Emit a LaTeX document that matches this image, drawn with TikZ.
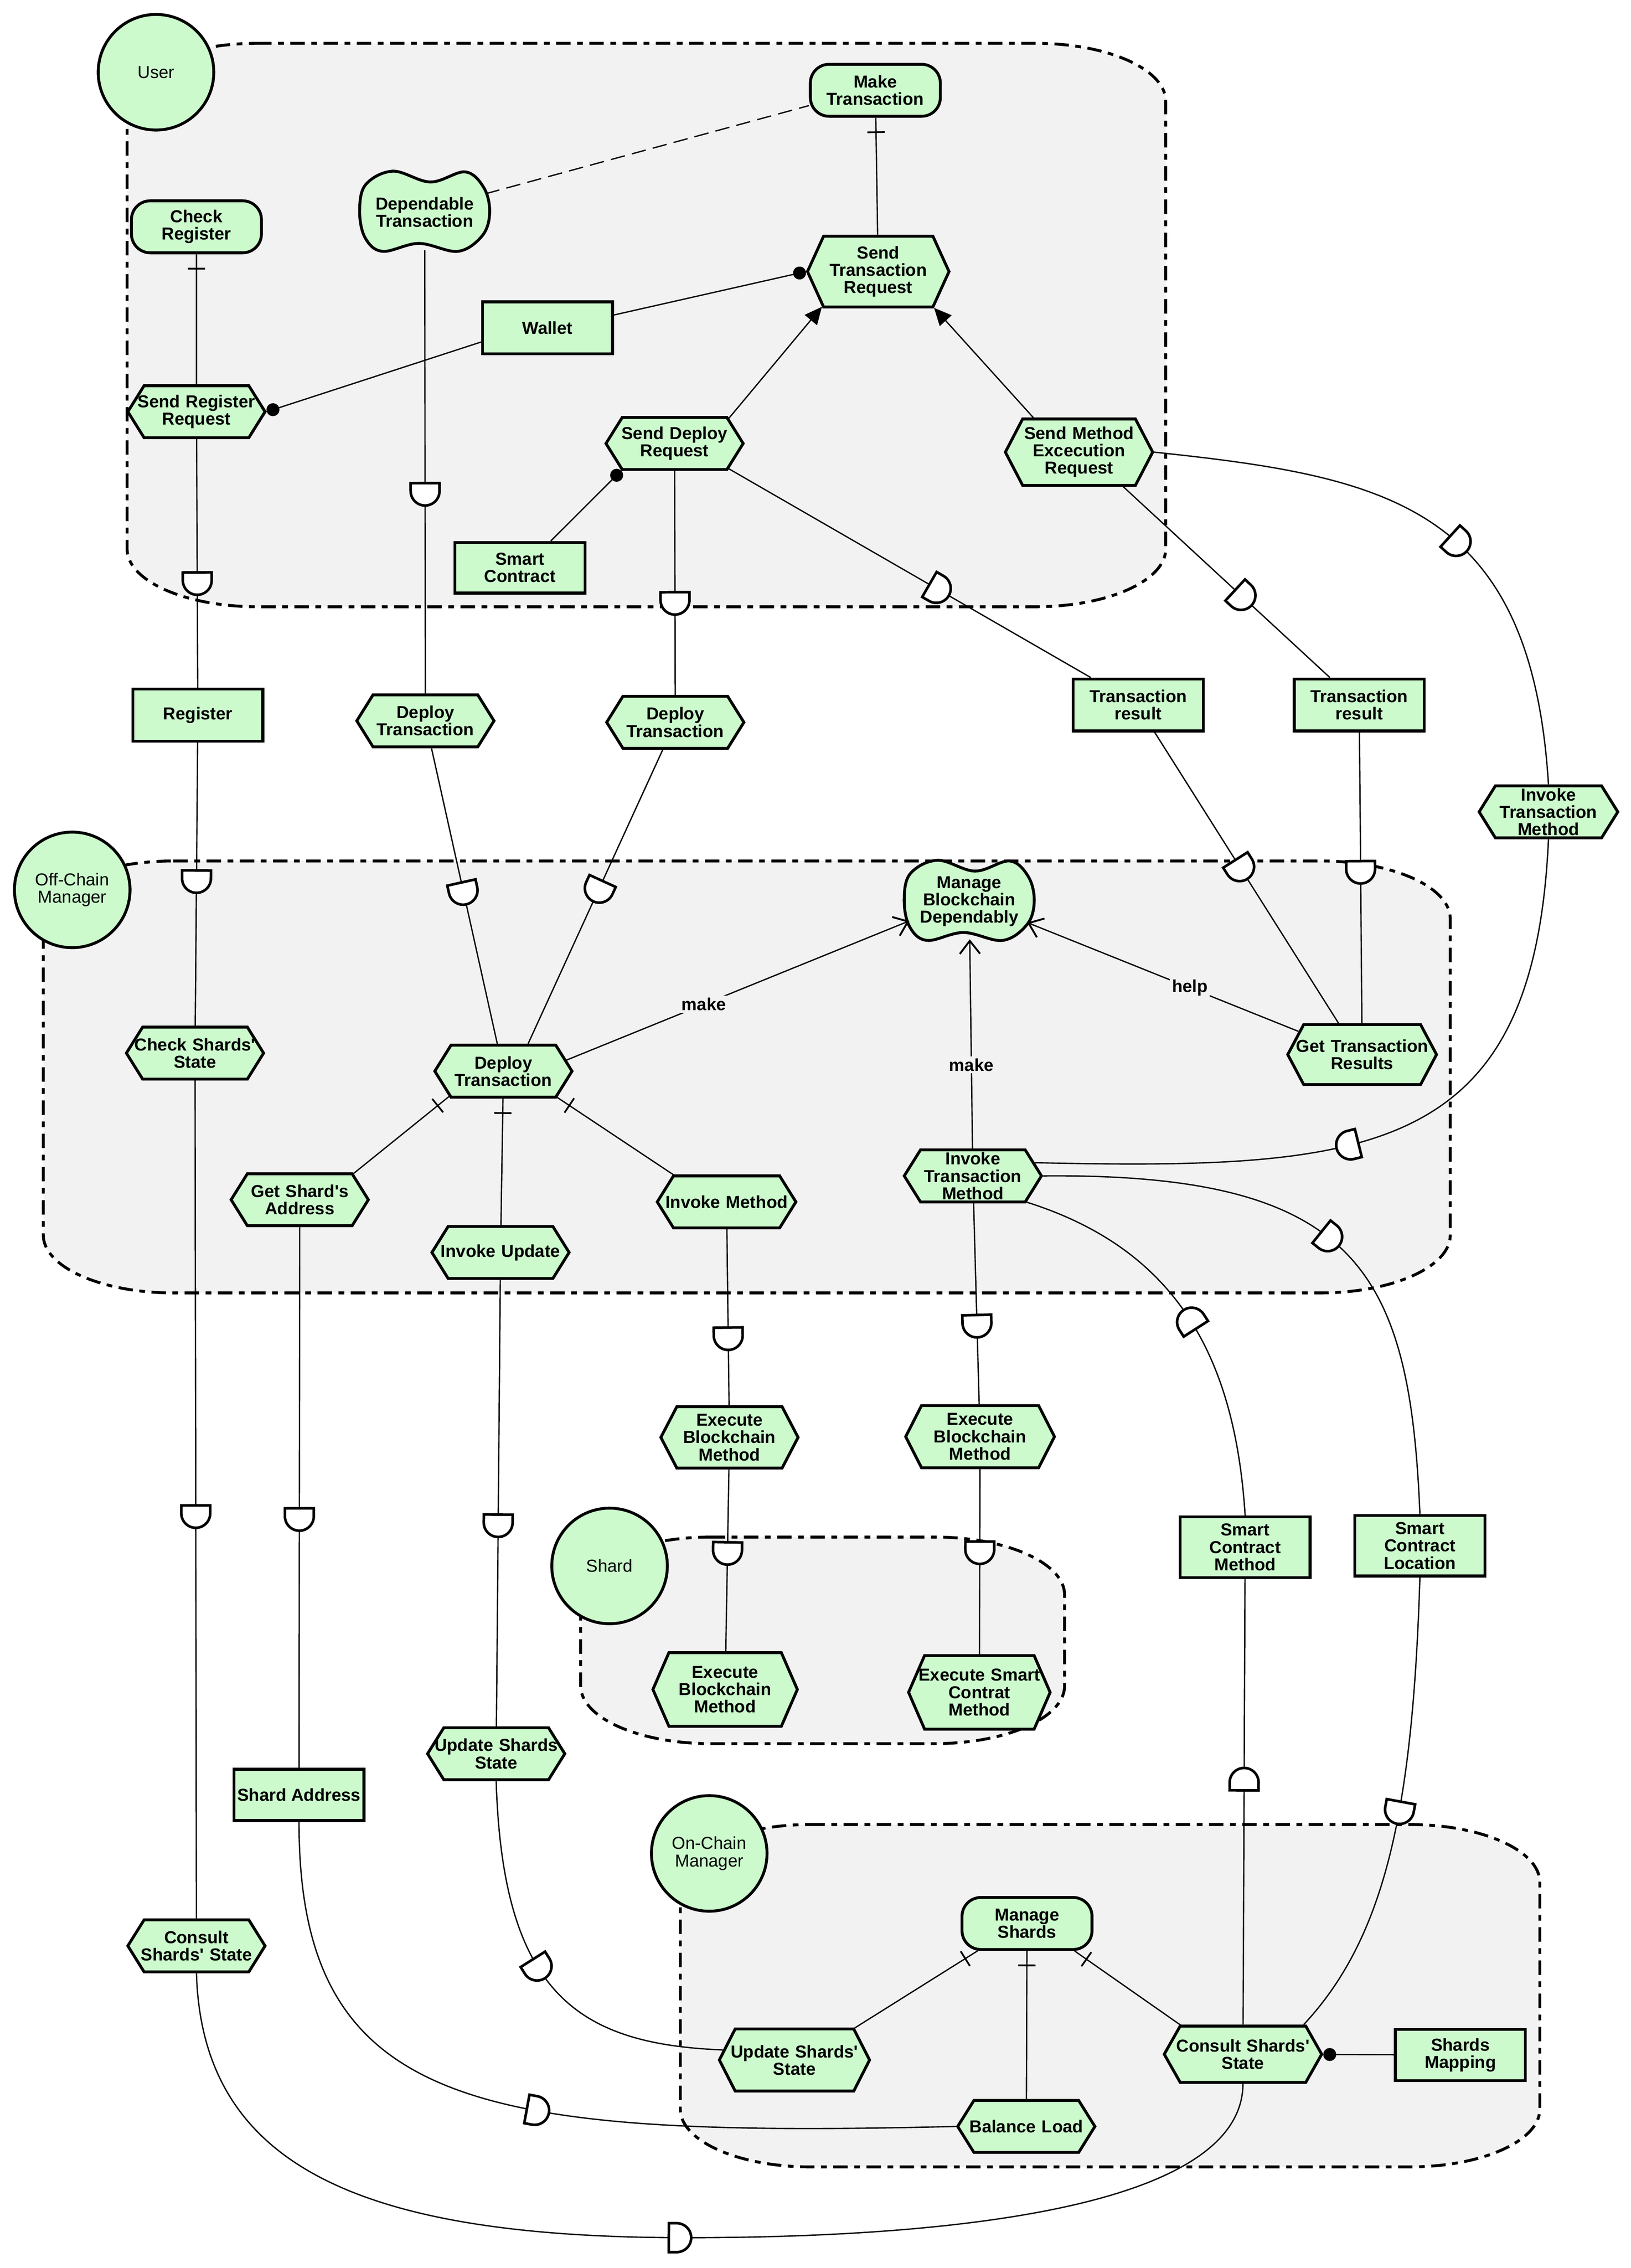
\documentclass[tikz,border=0pt]{standalone}
\usepackage{fontspec}
\setmainfont{Liberation Sans}
\usetikzlibrary{shapes.symbols,shapes.geometric,arrows.meta,decorations.markings}

\definecolor{elemfill}{HTML}{CCFACD}
\definecolor{bndfill}{HTML}{F2F2F2}

\tikzset{
  elemtext/.style={font=\fontsize{12}{12}\selectfont\bfseries, align=center},
  actor/.style={circle, draw, line width=2pt, fill=elemfill, minimum size=80pt, inner sep=0pt, align=center, font=\fontsize{12}{12}\selectfont},
  bnd/.style={draw, fill=bndfill, line width=2pt, dash pattern=on 10pt off 4.5pt on 4pt off 4.5pt},
  task/.style={elemtext, signal, signal to=east and west, signal pointer angle=116, draw, line width=2pt, fill=elemfill, text width=94pt, inner xsep=-11pt, inner ysep=0pt, minimum width=95pt, minimum height=36pt},
  resource/.style={elemtext, rectangle, draw, line width=2pt, fill=elemfill, inner sep=0pt, minimum width=90pt, minimum height=36pt},
  goal/.style={resource, rounded corners=13pt},
  softgoal/.style={elemtext, ellipse, inner sep=0pt, minimum width=90pt, minimum height=52pt},
  conn/.style={line width=0.9pt},
  dep/.style={conn, postaction={decorate, decoration={markings, mark=at position #1 with {\filldraw[fill=white, line width=1.8pt] (-7.5pt,-10pt) -- (-7.5pt,10pt) -- (-2pt,10pt) arc[start angle=90, end angle=-90, radius=10pt] -- cycle;}}}},
  dep/.default=0.5,
  andref/.style={conn, postaction={decorate, decoration={markings, mark=at position 10pt with {\draw[line width=1.2pt] (0pt,-6pt) -- (0pt,6pt);}}}},
  orref/.style={conn, -{Triangle[length=12pt, width=11pt]}},
  needed/.style={conn, -{Circle[length=9pt]}},
  contrib/.style={conn, -{Straight Barb[length=9pt, width=14pt, line width=1.3pt]}},
  lbl/.style={font=\fontsize{12}{12}\selectfont\bfseries, fill=bndfill, inner sep=1.5pt},
}

% softgoal: name, x, y, text
\newcommand{\softgoal}[4]{%
  \filldraw[line width=2pt, fill=elemfill, shift={(#2,#3)}] plot[smooth cycle, tension=0.6] coordinates {(-45,0) (-41,-19) (-22,-28.5) (4,-21) (28,-28) (41,-17) (45,0) (40,16) (23,27) (-4,21.5) (-29,27) (-41,18)};
  \node[softgoal] (#1) at (#2,#3) {#4};
}

% actor boundary: x1, y1, x2, y2
\newcommand{\boundary}[4]{%
  \filldraw[bnd] (#1+90,#2) -- (#3-90,#2)
    arc[start angle=90, end angle=0, x radius=90pt, y radius=40pt] -- (#3,#4-40)
    arc[start angle=0, end angle=-90, x radius=90pt, y radius=40pt] -- (#1+90,#4)
    arc[start angle=270, end angle=180, x radius=90pt, y radius=40pt] -- (#1,#2+40)
    arc[start angle=180, end angle=90, x radius=90pt, y radius=40pt] -- cycle;
}

\begin{document}
\begin{tikzpicture}[x=1pt, y=-1pt]
\useasboundingbox (0,0) rectangle (1129,1570);

% Boundaries and actors
\boundary{88}{30}{807}{420}
\boundary{30}{596}{1004}{895}
\boundary{402}{1064}{737}{1207}
\boundary{471}{1263}{1066}{1500}
\node[actor] (user) at (108,50) {User};
\node[actor] (offchain) at (50,616) {Off-Chain\\Manager};
\node[actor] (shard) at (422,1084) {Shard};
\node[actor] (onchain) at (491,1283) {On-Chain\\Manager};

% User
\node[goal] (mt) at (606,62.5) {Make\\Transaction};
\softgoal{dept}{294}{147}{Dependable\\Transaction}
\node[goal] (cr) at (136,157) {Check\\Register};
\node[task, minimum width=98pt, minimum height=49pt, signal pointer angle=131] (str) at (608,188) {Send\\Transaction\\Request};
\node[resource] (wallet) at (379,227) {Wallet};
\node[task] (srr) at (136,285) {Send Register\\Request};
\node[task] (sdr) at (467,307) {Send Deploy\\Request};
\node[task, minimum width=102pt, minimum height=46pt, signal pointer angle=125] (smer) at (747,313) {Send Method\\Excecution\\Request};
\node[resource, minimum height=35pt] (sc) at (360,393) {Smart\\Contract};

% between User and Off-Chain Manager
\node[resource] (reg) at (137,495) {Register};
\node[task] (dt1) at (294.5,499) {Deploy\\Transaction};
\node[task] (dt2) at (467.5,500) {Deploy\\Transaction};
\node[resource] (tr1) at (788,488) {Transaction\\result};
\node[resource] (tr2) at (941,488) {Transaction\\result};
\node[task, minimum width=96pt] (itm1) at (1072,562) {Invoke\\Transaction\\Method};

% Off-Chain Manager
\softgoal{mbd}{671}{624}{Manage\\Blockchain\\Dependably}
\node[task] (cso) at (135,729) {Check Shards\textquotesingle\\State};
\node[task] (dto) at (348.5,741.5) {Deploy\\Transaction};
\node[task, minimum width=103pt, minimum height=41.5pt, signal pointer angle=124] (gtr) at (943,730) {Get Transaction\\Results};
\node[task] (gsa) at (207.5,830.5) {Get Shard\textquotesingle s\\Address};
\node[task, minimum width=96pt] (im) at (503,832) {Invoke Method};
\node[task] (itm2) at (673.5,814) {Invoke\\Transaction\\Method};
\node[task] (iu) at (346.5,867) {Invoke Update};

% between Off-Chain Manager and the others
\node[task, minimum height=42.5pt, signal pointer angle=125] (ebm1) at (505,995) {Execute\\Blockchain\\Method};
\node[task, minimum width=103pt, minimum height=43pt, signal pointer angle=126] (ebm2) at (678.5,994.5) {Execute\\Blockchain\\Method};
\node[resource, minimum height=42pt] (scm) at (862,1071) {Smart\\Contract\\Method};
\node[resource, minimum height=42pt] (scl) at (983,1070) {Smart\\Contract\\Location};

% Shard
\node[task, minimum width=100pt, minimum height=51pt, signal pointer angle=133] (ebm3) at (502,1169.5) {Execute\\Blockchain\\Method};
\node[task, minimum width=98pt, minimum height=51pt, signal pointer angle=133] (escm) at (678,1171.5) {Execute Smart\\Contrat\\Method};

% between Off-Chain Manager and On-Chain Manager
\node[task] (uss1) at (343.5,1214) {Update Shards\\State};
\node[resource, minimum height=35.5pt] (sa) at (207,1242.5) {Shard Address};
\node[task] (css1) at (136,1347) {Consult\\Shards\textquotesingle{} State};

% On-Chain Manager
\node[goal] (ms) at (711,1331.5) {Manage\\Shards};
\node[task, minimum width=104pt, minimum height=43pt, signal pointer angle=126] (uss2) at (550,1426) {Update Shards\textquotesingle\\State};
\node[task, minimum width=109pt, minimum height=39pt, signal pointer angle=121] (css2) at (860.5,1422) {Consult Shards\textquotesingle\\State};
\node[resource, minimum height=35.5pt] (sm) at (1011,1422.5) {Shards\\Mapping};
\node[task] (bl) at (710.5,1472) {Balance Load};

% links inside User
\draw[andref] (cr) -- (srr);
\draw[andref] (mt) -- (str);
\draw[needed] (wallet.192) -- (srr.east);
\draw[needed] (wallet.11) -- (str.west);
\draw[orref] (sdr.25) -- (str.212);
\draw[orref] (smer.143) -- (str.327);
\draw[needed] (sc.41) -- (sdr.207);
\draw[conn, dash pattern=on 10pt off 5pt] (dept.17) -- (mt.193);

% links inside Off-Chain Manager
\draw[andref] (dto.205) -- (gsa.26);
\draw[andref] (dto) -- (iu);
\draw[andref] (dto.334) -- (im.153);
\draw[contrib] (dto.10) -- node[lbl, pos=0.4] {make} (mbd.198);
\draw[contrib] (itm2) -- node[lbl, pos=0.4] {make} (mbd);
\draw[contrib] (gtr.160) -- node[lbl, pos=0.4] {help} (mbd.340);

% links inside On-Chain Manager
\draw[andref] (ms.209) -- (uss2.28);
\draw[andref] (ms) -- (bl);
\draw[andref] (ms.330) -- (css2.155);
\draw[needed] (sm) -- (css2);

% dependencies
\draw[dep=0.58] (srr) -- (reg);
\draw[dep=0.49] (reg) -- (cso);
\draw[dep=0.55] (dept) -- (dt1);
\draw[dep=0.49] (dt1) -- (dto);
\draw[dep=0.59] (sdr) -- (dt2);
\draw[dep=0.48] (dt2) -- (dto.48);
\draw[dep=0.58] (sdr.335) -- (tr1.150);
\draw[dep=0.47] (tr1.301) -- (gtr.127);
\draw[dep=0.58] (smer.322) -- (tr2.137);
\draw[dep=0.48] (tr2) -- (gtr);
\draw[dep=0.55] (smer.east) .. controls (960,330) and (1060,350) .. (itm1.north);
\draw[dep=0.56] (itm1.south) .. controls (1062,800) and (950,810) .. (itm2.12);
\draw[dep=0.5] (itm2.east) .. controls (940,812) and (976,880) .. (scl.north);
\draw[dep=0.5] (scl.south) .. controls (978,1250) and (960,1340) .. (css2.26);
\draw[dep=0.55] (css2) -- (scm);
\draw[dep=0.5] (scm.north) .. controls (855,940) and (815,865) .. (itm2.334);
\draw[dep=0.61] (itm2) -- (ebm2);
\draw[dep=0.45] (ebm2) -- (escm);
\draw[dep=0.62] (im) -- (ebm1);
\draw[dep=0.46] (ebm1) -- (ebm3);
\draw[dep=0.52] (cso) -- (css1);
\draw[dep=0.5] (css1.south) .. controls (140,1500) and (250,1549) .. (475,1549) .. controls (650,1549) and (860,1530) .. (css2.south);
\draw[dep=0.54] (gsa) -- (sa);
\draw[dep=0.5] (sa.south) .. controls (207,1460) and (330,1480) .. (bl.west);
\draw[dep=0.55] (iu) -- (uss1);
\draw[dep=0.48] (uss1.south) .. controls (348,1380) and (400,1415) .. (uss2.172);
\end{tikzpicture}
\end{document}
